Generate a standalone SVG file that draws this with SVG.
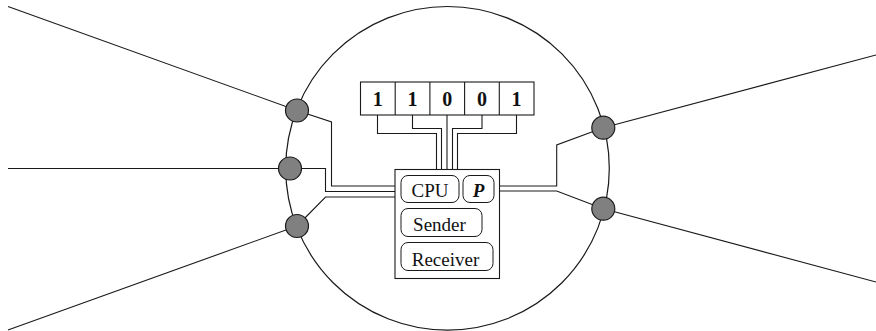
<svg xmlns="http://www.w3.org/2000/svg" width="876" height="331" viewBox="0 0 876 331">
<style>
.w{fill:none;stroke:#1a1a1a;stroke-width:1.1;stroke-linejoin:miter}
.ring{fill:none;stroke:#1a1a1a;stroke-width:1.2}
.node{fill:#808080;stroke:#1a1a1a;stroke-width:1.2}
.box{fill:#fff;stroke:#1a1a1a;stroke-width:1.1}
.rbox{fill:#fff;stroke:#1a1a1a;stroke-width:1}
.t{font-family:"Liberation Serif","Times New Roman",serif;font-size:19px;fill:#111;text-anchor:middle}
.d{font-family:"Liberation Serif","Times New Roman",serif;font-size:20px;font-weight:bold;fill:#111;text-anchor:middle}
</style>
<circle class="ring" cx="447.5" cy="168.3" r="161.8"/>
<g id="connectors">
<polyline class="w" points="8,6.5 297,110.5"/>
<polyline class="w" points="8,168.5 290,168.5"/>
<polyline class="w" points="8,330 297,226"/>
<polyline class="w" points="603.3,127.7 876,55"/>
<polyline class="w" points="603.3,208.7 876,282"/>
<polyline class="w" points="297,110.5 331.5,122 331.5,186 395,186"/>
<polyline class="w" points="290,168.5 325.5,168.5 325.5,191.5 395,191.5"/>
<polyline class="w" points="297,226 325.5,197 395,197"/>
<polyline class="w" points="377.5,115 377.5,133.5 436.5,133.5 436.5,169.5"/>
<polyline class="w" points="412.5,115 412.5,128.5 441.5,128.5 441.5,169.5"/>
<polyline class="w" points="447,115 447,169.5"/>
<polyline class="w" points="482,115 482,128.5 452.5,128.5 452.5,169.5"/>
<polyline class="w" points="516.5,115 516.5,133.5 457.5,133.5 457.5,169.5"/>
<polyline class="w" points="603.3,127.7 556.7,145 556.7,186 499.5,186"/>
<polyline class="w" points="603.3,208.7 556.7,191 499.5,191"/>
</g>
<g id="node-l1"><circle class="node" cx="297" cy="110.5" r="11.5"/></g>
<g id="node-l2"><circle class="node" cx="290" cy="168.5" r="11.5"/></g>
<g id="node-l3"><circle class="node" cx="297" cy="226" r="11.5"/></g>
<g id="node-r1"><circle class="node" cx="603.3" cy="127.7" r="11.5"/></g>
<g id="node-r2"><circle class="node" cx="603.3" cy="208.7" r="11.5"/></g>
<g id="register">
<rect class="box" x="360.5" y="82" width="173.5" height="33"/>
<line class="w" x1="395.2" y1="82" x2="395.2" y2="115"/>
<line class="w" x1="429.9" y1="82" x2="429.9" y2="115"/>
<line class="w" x1="464.6" y1="82" x2="464.6" y2="115"/>
<line class="w" x1="499.3" y1="82" x2="499.3" y2="115"/>
<text class="d" x="377.8" y="105.5">1</text>
<text class="d" x="412.5" y="105.5">1</text>
<text class="d" x="447.2" y="105.5">0</text>
<text class="d" x="481.9" y="105.5">0</text>
<text class="d" x="516.6" y="105.5">1</text>
</g>
<g id="processor">
<rect class="box" x="395" y="169.5" width="104.5" height="109"/>
<g id="cpu"><rect class="rbox" x="401" y="175.5" width="58" height="27" rx="7"/><text class="t" x="430" y="196.5">CPU</text></g>
<g id="p"><rect class="rbox" x="463" y="175.5" width="31" height="27" rx="7"/><text class="t" x="478.5" y="196.5" font-weight="bold" font-style="italic">P</text></g>
<g id="sender"><rect class="rbox" x="401" y="208.5" width="81" height="28" rx="7"/><text class="t" x="439.5" y="231">Sender</text></g>
<g id="receiver"><rect class="rbox" x="401" y="242.5" width="92" height="28" rx="7"/><text class="t" x="445.5" y="265.5">Receiver</text></g>
</g>
</svg>
